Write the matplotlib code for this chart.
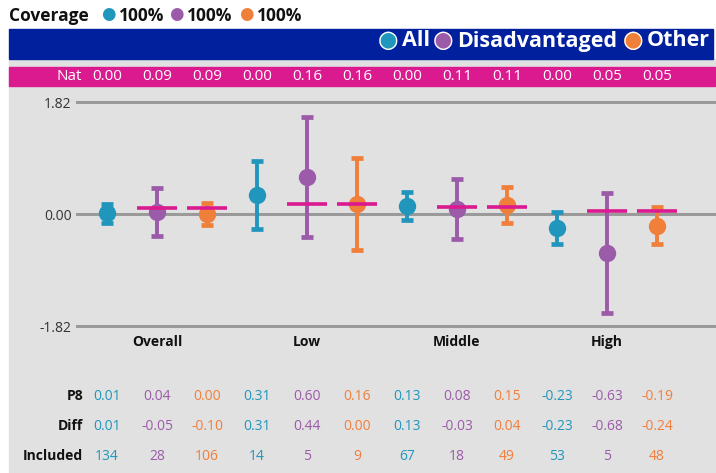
import matplotlib.pyplot as plt
from matplotlib.patches import Rectangle
from matplotlib.transforms import blended_transform_factory
import numpy as np

plt.rcParams['font.family'] = ['Open Sans', 'DejaVu Sans']

groups = ['Overall', 'Low', 'Middle', 'High']
series = ['All', 'Disadvantaged', 'Other']
coverage = ['100%', '100%', '100%']

# one value per column: group x series
p8 = [0.01, 0.04, 0.00, 0.31, 0.60, 0.16, 0.13, 0.08, 0.15, -0.23, -0.63, -0.19]
diff = [0.01, -0.05, -0.10, 0.31, 0.44, 0.00, 0.13, -0.03, 0.04, -0.23, -0.68, -0.24]
included = [134, 28, 106, 14, 5, 9, 67, 18, 49, 53, 5, 48]
nat = [0.00, 0.09, 0.09, 0.00, 0.16, 0.16, 0.00, 0.11, 0.11, 0.00, 0.05, 0.05]
ci = [0.16, 0.39, 0.18, 0.55, 0.97, 0.75, 0.23, 0.49, 0.29, 0.26, 0.975, 0.30]
ylim_val = 1.82

colors = ['#2196BC', '#9B5BA9', '#F07F3A']
magenta = '#DC1A8F'
navy = '#00209E'
panel = '#E1E1E1'
grid_c = '#9A9A9A'

W, H = 716, 473
fig = plt.figure(figsize=(W / 100, H / 100), dpi=100)


def fx(px):
    return px / W


def fy(py):
    return 1 - py / H


# background panel, banner and nat band
fig.patches.append(Rectangle((fx(9), 0), fx(716 - 9), fy(59), transform=fig.transFigure,
                             color=panel, zorder=0))
fig.patches.append(Rectangle((fx(9), fy(59)), fx(713 - 9), fy(29) - fy(59), transform=fig.transFigure,
                             color=navy, zorder=0))
fig.patches.append(Rectangle((fx(9), fy(86)), fx(706), fy(67) - fy(86), transform=fig.transFigure,
                             color=magenta, zorder=0))

# coverage line
fig.text(fx(9), fy(16), 'Coverage', fontsize=12.5, fontweight='bold', color='#111111',
         va='center', ha='left')
cov_x = [108, 176, 246]
for i, c in enumerate(colors):
    fig.text(fx(cov_x[i]), fy(15), '\u25CF', fontsize=12, color=c, va='center', ha='center')
    fig.text(fx(cov_x[i] + 11), fy(16), coverage[i], fontsize=12.5, fontweight='bold',
             color='#111111', va='center', ha='left')

# legend in banner
leg_x = [388, 443, 633]
for i, c in enumerate(colors):
    fig.text(fx(leg_x[i]), fy(41), '\u25CF', fontsize=17, color=c, va='center', ha='center',
             zorder=3)
    fig.text(fx(leg_x[i]), fy(41), '\u25CB', fontsize=17, color='white', va='center', ha='center',
             zorder=4)
    fig.text(fx(leg_x[i] + 14), fy(41), series[i], fontsize=15.5, fontweight='bold',
             color='white', va='center', ha='left', zorder=4)

# main axes
ax = fig.add_axes([fx(77), fy(326), fx(716 - 77), fy(102) - fy(326)], zorder=2)
ax.set_facecolor('none')
ax.set_xlim(-0.6, 12.18)
ax.set_ylim(-ylim_val, ylim_val)
for s in ax.spines.values():
    s.set_visible(False)
ax.set_xticks([])
ax.set_yticks([-ylim_val, 0, ylim_val])
ax.set_yticklabels(['%.2f' % -ylim_val, '0.00', '%.2f' % ylim_val])
ax.tick_params(axis='y', length=0, pad=4, labelsize=10, labelcolor='#333333')
for yv in [-ylim_val, 0, ylim_val]:
    ax.axhline(yv, color=grid_c, lw=2.2, clip_on=False, zorder=1)

xs = np.arange(len(p8))
for i in xs:
    c = colors[i % 3]
    ax.errorbar(i, p8[i], yerr=ci[i], fmt='o', color=c, ms=11.5, elinewidth=2.8,
                capsize=4, capthick=3.4, zorder=3)
    if nat[i] != 0:
        ax.hlines(nat[i], i - 0.4, i + 0.4, color=magenta, lw=2.6, zorder=4)

# nat band values
trans = blended_transform_factory(ax.transData, fig.transFigure)
fig.text(fx(82), fy(76.5), 'Nat', fontsize=11, color='white', va='center', ha='right', zorder=3)
for i in xs:
    ax.text(i, fy(76.5), '%.2f' % nat[i], transform=trans, fontsize=11, color='white',
            va='center', ha='center', zorder=3, clip_on=False)

# group labels
for g, name in enumerate(groups):
    ax.text(g * 3 + 1, fy(342), name, transform=trans, fontsize=10, fontweight='bold',
            color='#111111', va='center', ha='center', clip_on=False)

# table rows
rows = [('P8', ['%.2f' % v for v in p8], 396),
        ('Diff', ['%.2f' % v for v in diff], 426),
        ('Included', [str(v) for v in included], 456)]
for label, vals, ypx in rows:
    fig.text(fx(83), fy(ypx), label, fontsize=10, fontweight='bold', color='#111111',
             va='center', ha='right')
    for i in xs:
        ax.text(i, fy(ypx), vals[i], transform=trans, fontsize=10, color=colors[i % 3],
                va='center', ha='center', clip_on=False)

fig.savefig('out.png', dpi=100)
